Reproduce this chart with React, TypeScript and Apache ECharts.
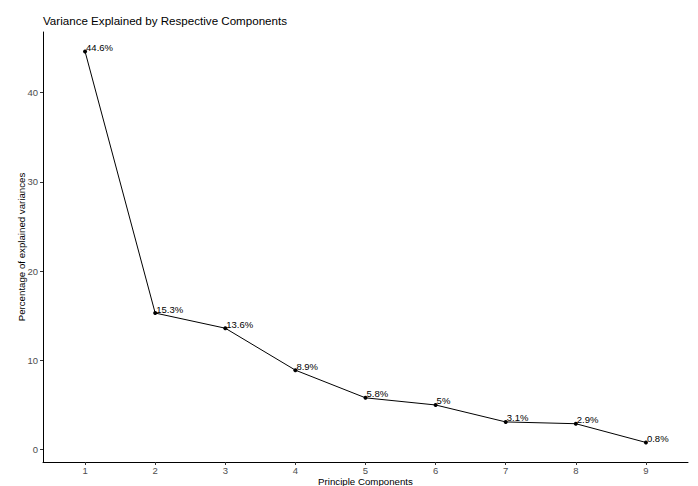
import React, { useEffect, useRef } from "react";
import * as echarts from "echarts";

const components = [1, 2, 3, 4, 5, 6, 7, 8, 9];
const variances = [44.6, 15.3, 13.6, 8.9, 5.8, 5, 3.1, 2.9, 0.8];
const pointLabels = ["44.6%", "15.3%", "13.6%", "8.9%", "5.8%", "5%", "3.1%", "2.9%", "0.8%"];
const yTicks = [0, 10, 20, 30, 40];

const FONT = "'Liberation Sans', Arial, sans-serif";

export default function App() {
  const ref = useRef<HTMLDivElement>(null);
  useEffect(() => {
    if (!ref.current) return;
    const chart = echarts.init(ref.current, null, { renderer: "svg" });
    const data = components.map((c, i) => [c, variances[i], pointLabels[i]]);
    chart.setOption({
      animation: false,
      backgroundColor: "#ffffff",
      textStyle: { fontFamily: FONT },
      title: {
        text: "Variance Explained by Respective Components",
        left: 38,
        top: 9,
        textStyle: { fontFamily: FONT, fontSize: 11.6, fontWeight: "normal", color: "#000000" },
      },
      grid: { left: 43, right: 10, top: 32, bottom: 24, containLabel: false, outerBoundsMode: "none" },
      xAxis: {
        type: "value",
        min: 0.4,
        max: 9.6,
        name: "Principle Components",
        nameLocation: "middle",
        nameGap: 14,
        nameMoveOverlap: false,
        nameTextStyle: { fontFamily: FONT, fontSize: 9.7, color: "#000000" },
        axisLine: { show: true, onZero: false, lineStyle: { color: "#000000", width: 1 } },
        axisTick: { show: true, length: 3, lineStyle: { color: "#333333" }, customValues: components },
        axisLabel: { fontFamily: FONT, fontSize: 9.5, color: "#4d4d4d", margin: 3, customValues: components },
        splitLine: { show: false },
      },
      yAxis: {
        type: "value",
        min: -1.39,
        max: 46.79,
        name: "Percentage of explained variances",
        nameLocation: "middle",
        nameGap: 16.5,
        nameMoveOverlap: false,
        nameTextStyle: { fontFamily: FONT, fontSize: 9.7, color: "#000000" },
        axisLine: { show: true, onZero: false, lineStyle: { color: "#000000", width: 1 } },
        axisTick: { show: true, length: 3, lineStyle: { color: "#333333" }, customValues: yTicks },
        axisLabel: { fontFamily: FONT, fontSize: 9.5, color: "#4d4d4d", margin: 5, customValues: yTicks },
        splitLine: { show: false },
      },
      series: [
        {
          type: "line",
          data,
          symbol: "circle",
          symbolSize: 4,
          itemStyle: { color: "#000000" },
          lineStyle: { color: "#000000", width: 1 },
          label: {
            show: true,
            position: "top",
            align: "left",
            distance: 0,
            offset: [1, 3],
            fontFamily: FONT,
            fontSize: 9.5,
            color: "#000000",
            formatter: (p: any) => p.data[2],
          },
        },
      ],
    });
    return () => chart.dispose();
  }, []);
  return <div ref={ref} style={{ width: 698, height: 486, position: "absolute", left: 0, top: 0 }} />;
}
